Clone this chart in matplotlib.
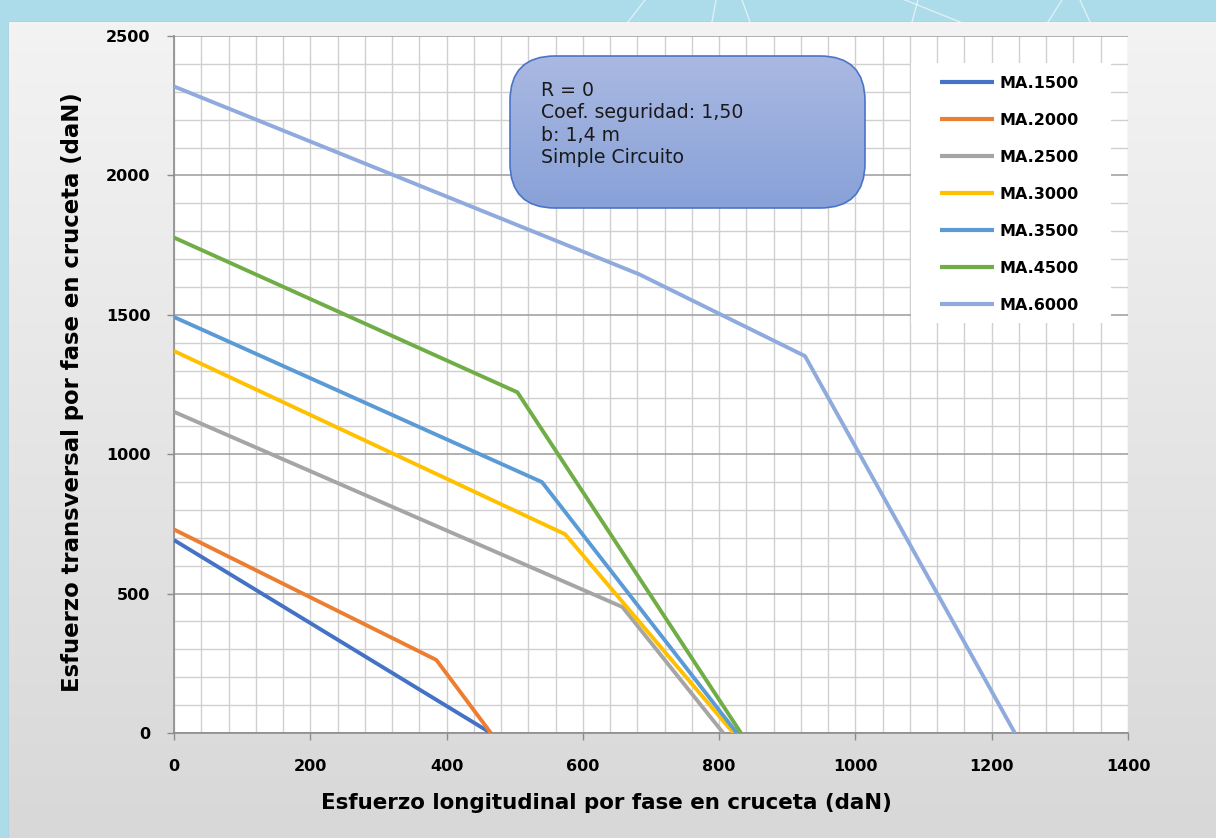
#!/usr/bin/env python3

import matplotlib

matplotlib.use("Agg")

import matplotlib.pyplot as plt
import numpy as np
from matplotlib.patches import FancyBboxPatch, Rectangle
from matplotlib.ticker import MultipleLocator


# Curvas de esfuerzo admisible en cruceta
SERIES_NAMES = ["MA.1500", "MA.2000", "MA.2500", "MA.3000", "MA.3500", "MA.4500", "MA.6000"]

MA1500_X = [0, 465]
MA1500_Y = [692, 0]

MA2000_X = [0, 385, 465]
MA2000_Y = [730, 262, 0]

MA2500_X = [0, 658, 806]
MA2500_Y = [1152, 452, 0]

MA3000_X = [0, 574, 821]
MA3000_Y = [1370, 713, 0]

MA3500_X = [0, 540, 826]
MA3500_Y = [1492, 900, 0]

MA4500_X = [0, 504, 832]
MA4500_Y = [1777, 1222, 0]

MA6000_X = [0, 683, 926, 1234]
MA6000_Y = [2319, 1645, 1352, 0]

SERIES_X = [MA1500_X, MA2000_X, MA2500_X, MA3000_X, MA3500_X, MA4500_X, MA6000_X]
SERIES_Y = [MA1500_Y, MA2000_Y, MA2500_Y, MA3000_Y, MA3500_Y, MA4500_Y, MA6000_Y]
COLORS = ["#4472c4", "#ed7d31", "#a5a5a5", "#ffc000", "#5b9bd5", "#70ad47", "#8faadc"]

X_LABEL = "Esfuerzo longitudinal por fase en cruceta (daN)"
Y_LABEL = "Esfuerzo transversal por fase en cruceta (daN)"
BOX_TEXT = "R = 0\nCoef. seguridad: 1,50\nb: 1,4 m\nSimple Circuito"

W, H = 1216, 838


def _background(fig):
    bg = fig.add_axes([0, 0, 1, 1], zorder=-5)
    bg.set_xlim(0, W)
    bg.set_ylim(H, 0)
    bg.axis("off")
    bg.add_patch(Rectangle((0, 0), W, H, facecolor="#acdbe9", edgecolor="none"))
    # trazos decorativos del tema en la franja superior
    for x0, y0, x1, y1 in [(628, 22, 645, 0), (712, 22, 716, 0), (750, 22, 742, 0),
                           (905, 0, 960, 22), (912, 22, 918, 0), (1048, 22, 1062, 0),
                           (1080, 0, 1090, 22)]:
        bg.plot([x0, x1], [y0, y1], color="white", lw=1.0, alpha=0.6)
    grad = np.linspace(0, 1, 256).reshape(-1, 1)
    cmap = matplotlib.colors.LinearSegmentedColormap.from_list("panel", ["#f3f3f3", "#d8d8d8"])
    panel = Rectangle((9, 22), W - 9, H - 22, facecolor="none", edgecolor="#b8b8b8", lw=1.0)
    bg.add_patch(panel)
    img = bg.imshow(grad, cmap=cmap, aspect="auto", extent=[9, W, H, 22], zorder=1)
    img.set_clip_path(panel)


def _text_box(fig):
    ov = fig.add_axes([0, 0, 1, 1], zorder=5)
    ov.set_xlim(0, W)
    ov.set_ylim(H, 0)
    ov.axis("off")
    ov.patch.set_alpha(0)
    x0, y0, x1, y1 = 510, 56, 865, 208
    box = FancyBboxPatch((x0, y0), x1 - x0, y1 - y0,
                         boxstyle="round,pad=0,rounding_size=45",
                         facecolor="none", edgecolor="#4a74c8", lw=1.2, zorder=3)
    ov.add_patch(box)
    grad = np.linspace(0, 1, 256).reshape(-1, 1)
    cmap = matplotlib.colors.LinearSegmentedColormap.from_list("box", ["#aab9e2", "#88a1d8"])
    img = ov.imshow(grad, cmap=cmap, aspect="auto", extent=[x0, x1, y1, y0], zorder=2)
    img.set_clip_path(box)
    ov.text(541, 81, BOX_TEXT, ha="left", va="top", fontsize=13.6, color="#1a1a1a",
            family="DejaVu Sans", linespacing=1.22, zorder=4)


def main():
    fig = plt.figure(figsize=(W / 100, H / 100), dpi=100)
    _background(fig)

    ax = fig.add_axes([174 / W, 1 - 733 / H, 954 / W, 697 / H], zorder=1)
    ax.set_facecolor("white")

    for name, xs, ys, color in zip(SERIES_NAMES, SERIES_X, SERIES_Y, COLORS):
        ax.plot(xs, ys, color=color, lw=2.8, label=name, solid_capstyle="butt", zorder=3)

    ax.set_xlim(0, 1400)
    ax.set_ylim(0, 2500)
    ax.xaxis.set_major_locator(MultipleLocator(200))
    ax.xaxis.set_minor_locator(MultipleLocator(40))
    ax.yaxis.set_major_locator(MultipleLocator(500))
    ax.yaxis.set_minor_locator(MultipleLocator(100))

    ax.grid(which="minor", color="#d0d0d0", lw=1.0, zorder=0)
    ax.grid(which="major", axis="x", color="#d0d0d0", lw=1.0, zorder=0)
    ax.grid(which="major", axis="y", color="#a3a3a3", lw=1.2, zorder=0)
    ax.set_axisbelow(True)

    for side in ["top", "right"]:
        ax.spines[side].set_visible(False)
    for side in ["left", "bottom"]:
        ax.spines[side].set_color("#8c8c8c")
        ax.spines[side].set_linewidth(1.2)

    ax.tick_params(which="major", direction="out", length=5, width=1.0, color="#8c8c8c",
                   labelsize=11.5)
    ax.tick_params(which="minor", length=0)
    ax.tick_params(axis="y", pad=12)
    ax.tick_params(axis="x", pad=13.5)
    for lab in ax.get_xticklabels() + ax.get_yticklabels():
        lab.set_fontweight("bold")

    ax.set_xlabel(X_LABEL, fontsize=15.4, fontweight="bold", labelpad=14)
    ax.set_ylabel(Y_LABEL, fontsize=16.4, fontweight="bold", labelpad=16)
    # en el original los titulos de eje no estan centrados respecto al area de trazado
    ax.xaxis.label.set_x(0.453)
    ax.yaxis.label.set_y(0.489)

    # fondo blanco de la leyenda (mas ancho que el marco propio de matplotlib)
    ax.add_patch(Rectangle((911 / W, 1 - 323 / H), 200 / W, 260 / H,
                           transform=fig.transFigure, facecolor="white",
                           edgecolor="none", zorder=2, clip_on=False))
    leg = ax.legend(loc="upper left", bbox_to_anchor=(930 / W, 1 - 66 / H),
                    bbox_transform=fig.transFigure, frameon=False,
                    handlelength=3.4, handletextpad=0.35, labelspacing=1.38,
                    borderpad=0.6, borderaxespad=0, prop={"weight": "bold", "size": 11.5})
    leg.set_zorder(10)
    for line in leg.get_lines():
        line.set_linewidth(3.0)

    _text_box(fig)

    fig.savefig("out.png", dpi=100)
    plt.close(fig)


if __name__ == "__main__":
    main()
